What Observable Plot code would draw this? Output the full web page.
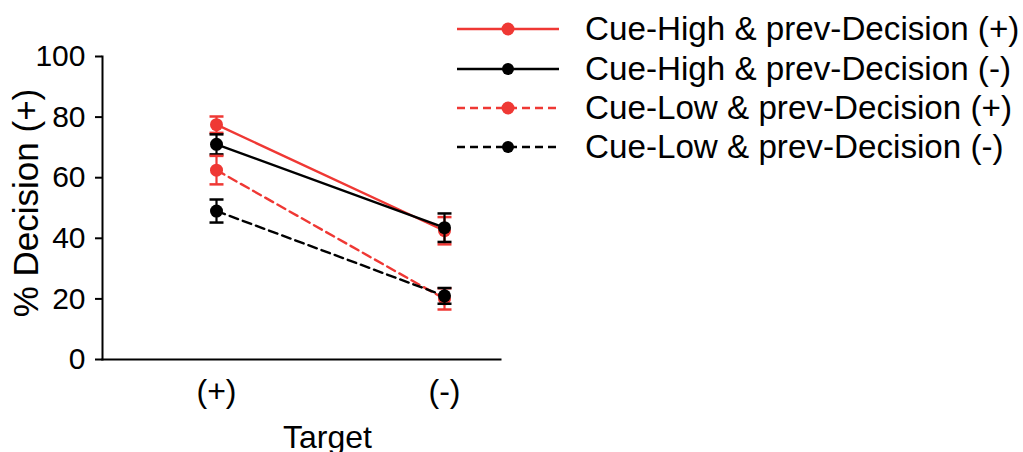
<!DOCTYPE html>
<html>
<head>
<meta charset="utf-8">
<script src="https://cdn.jsdelivr.net/npm/d3@7"></script>
<script src="https://cdn.jsdelivr.net/npm/@observablehq/plot@0.6"></script>
<style>
  html, body { margin: 0; padding: 0; background: #fff; }
  #wrap { position: relative; width: 1023px; height: 452px; overflow: hidden; font-family: "Liberation Sans", Arial, Helvetica, sans-serif; }
  #chart svg g[aria-label="y-axis tick label"] { font-size: 30px !important; }
  #chart svg g[aria-label="x-axis tick label"] { font-size: 32px !important; }
  #legend { position: absolute; left: 0; top: 0; }
  .lg-row { position: absolute; left: 455px; height: 40px; display: flex; align-items: center; white-space: nowrap; }
  .lg-row svg { display: block; }
  .lg-row span { margin-left: 24px; font-size: 33.2px; color: #000; line-height: 40px; }
</style>
</head>
<body>
<div id="wrap"><div id="chart"></div><div id="legend"></div></div>
<script>
// Target categories on the x axis
const targets = ["(+)", "(-)"];

// Series labels
const seriesNames = [
  "Cue-High & prev-Decision (+)",
  "Cue-High & prev-Decision (-)",
  "Cue-Low & prev-Decision (+)",
  "Cue-Low & prev-Decision (-)"
];

// Mean % Decision (+) for each target, per series
const cueHighPrevPos = [77.5, 42.5];
const cueHighPrevNeg = [71.0, 43.5];
const cueLowPrevPos  = [62.5, 20.0];
const cueLowPrevNeg  = [49.0, 21.0];

// Standard errors, per series
const errHighPrevPos = [2.7, 4.5];
const errHighPrevNeg = [3.3, 4.7];
const errLowPrevPos  = [4.7, 3.5];
const errLowPrevNeg  = [3.8, 2.6];

const yTicks = [0, 20, 40, 60, 80, 100];

const RED = "#ef3834";
const DASH = "9,5";
const series = [
  {name: seriesNames[0], values: cueHighPrevPos, err: errHighPrevPos, color: RED, dash: null},
  {name: seriesNames[1], values: cueHighPrevNeg, err: errHighPrevNeg, color: "#000", dash: null},
  {name: seriesNames[2], values: cueLowPrevPos, err: errLowPrevPos, color: RED, dash: DASH},
  {name: seriesNames[3], values: cueLowPrevNeg, err: errLowPrevNeg, color: "#000", dash: DASH}
];

// Horizontal cap for error bars, drawn as a custom dot symbol
const capSymbol = {
  draw(ctx, size) {
    const h = Math.sqrt(size / Math.PI);
    ctx.moveTo(-h, 0);
    ctx.lineTo(h, 0);
  }
};

const seriesMarks = series.flatMap(s => {
  const rows = targets.map((t, j) => ({
    target: t, value: s.values[j], lo: s.values[j] - s.err[j], hi: s.values[j] + s.err[j]
  }));
  return [
    Plot.line(rows, {x: "target", y: "value", stroke: s.color, strokeWidth: 2.4, strokeDasharray: s.dash}),
    Plot.ruleX(rows, {x: "target", y1: "lo", y2: "hi", stroke: s.color, strokeWidth: 2.2}),
    Plot.dot(rows, {x: "target", y: "hi", symbol: capSymbol, r: 7, stroke: s.color, strokeWidth: 2.5, fill: "none"}),
    Plot.dot(rows, {x: "target", y: "lo", symbol: capSymbol, r: 7, stroke: s.color, strokeWidth: 2.5, fill: "none"}),
    Plot.dot(rows, {x: "target", y: "value", r: 6.5, fill: s.color, stroke: "none"})
  ];
});

const chart = Plot.plot({
  width: 1023,
  height: 452,
  marginLeft: 102,
  marginRight: 523,
  marginTop: 56,
  marginBottom: 93,
  style: {fontFamily: "'Liberation Sans', Arial, Helvetica, sans-serif", color: "#000", background: "#fff", overflow: "visible"},
  x: {type: "point", domain: targets, padding: 0.3728, align: 0.67, label: null},
  y: {domain: [0, 100], label: null},
  marks: [
    Plot.axisY({ticks: yTicks, tickSize: 7, tickPadding: 10, fontSize: 30, strokeWidth: 2, label: null}),
    Plot.axisX({tickSize: 0, tickPadding: 20, fontSize: 32, label: null}),
    Plot.frame({anchor: "left", strokeWidth: 2}),
    Plot.frame({anchor: "bottom", strokeWidth: 2}),
    Plot.text(["% Decision (+)"], {frameAnchor: "left", textAnchor: "middle", dx: -76, dy: -5, rotate: -90, fontSize: 35}),
    Plot.text(["Target"], {frameAnchor: "bottom", dx: 26, dy: 66, lineAnchor: "top", fontSize: 32}),
    ...seriesMarks
  ]
});
document.getElementById("chart").appendChild(chart);

// Legend rows with line/marker swatches
const legend = d3.select("#legend");
const rowCenters = [29, 69, 108, 147];
series.forEach((s, i) => {
  const row = legend.append("div").attr("class", "lg-row").style("top", (rowCenters[i] - 20) + "px");
  const svg = row.append("svg").attr("width", 106).attr("height", 40);
  svg.append("line").attr("x1", 2).attr("x2", 104).attr("y1", 20).attr("y2", 20)
    .attr("stroke", s.color).attr("stroke-width", 2.5)
    .attr("stroke-dasharray", s.dash ? "8,5" : null);
  svg.append("circle").attr("cx", 53).attr("cy", 20).attr("r", s.color === RED ? 6.5 : 6).attr("fill", s.color);
  row.append("span").text(s.name);
});
</script>
</body>
</html>
